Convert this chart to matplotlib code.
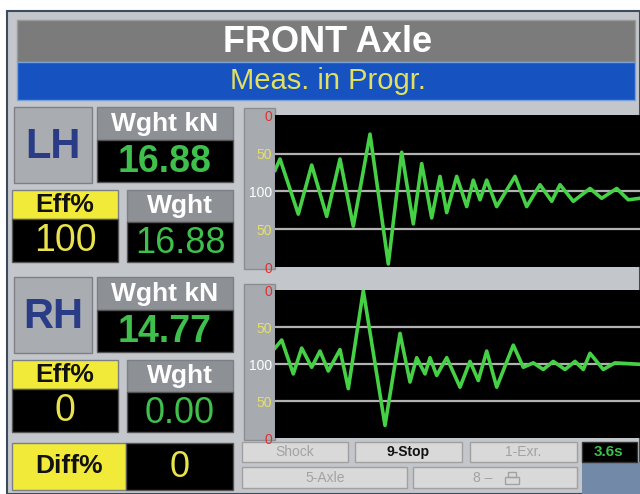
import matplotlib.pyplot as plt
from matplotlib.patches import Rectangle

plt.rcParams['font.family'] = ['Liberation Sans', 'DejaVu Sans']

# waveform data, x = time in chart units (0..365), y = deviation (centre line = 100 %)
front_lh_t = [0, 5, 23.3, 36.7, 51.7, 65, 78.3, 95, 113.3, 126.7, 138.3, 146.7, 156.7,
              165, 171.7, 181.7, 191.7, 198.3, 205, 211.7, 221.7, 240, 251.7, 265,
              276.7, 285, 298.3, 315, 326.7, 341.7, 353.3, 365]
front_lh_d = [28, 43, -30, 35, -33, 43, -46, 76, -96, 52, -43, 37, -35,
              20, -28, 20, -20, 15, -11, 15, -20, 20, -20, 9,
              -13, 9, -13, 4, -9, 4, -11, -9]

front_rh_t = [0, 6.7, 18.3, 26.7, 36.7, 45, 53.3, 65, 73.3, 88.3, 110, 125, 135,
              141.7, 150, 155, 161.7, 171.7, 185, 195, 203.3, 211.7, 221.7, 238.3,
              248.3, 258.3, 268.3, 278.3, 290, 300, 308.3, 315, 328.3, 340, 365]
front_rh_d = [22, 33, -13, 22, -4, 18, -9, 20, -33, 100, -83, 42, -24,
              9, -13, 9, -15, 9, -31, 4, -22, 18, -31, 26,
              -4, 2, -7, 4, -7, 4, -7, 15, -7, 2, 0]

tick_vals = [100, 50, 0, -50, -100]
tick_text = ['0', '50', '100', '50', '0']
tick_cols = ['#e03030', '#e8e060', '#ffffff', '#e8e060', '#e03030']

W, H = 640, 494
fig = plt.figure(figsize=(6.4, 4.94), dpi=100)
bg = fig.add_axes([0, 0, 1, 1])
bg.set_xlim(0, W)
bg.set_ylim(H, 0)
bg.axis('off')


def box(x, y, w, h, fc, ec='#7c8086', lw=1.0):
    bg.add_patch(Rectangle((x, y), w, h, facecolor=fc, edgecolor=ec, linewidth=lw))


def label(x, y, s, col, size, weight='bold'):
    bg.text(x, y, s, color=col, fontsize=size, fontweight=weight,
            ha='center', va='center')


# frame
box(0, 0, W, H, '#ffffff', ec='none')
box(7, 11, W - 7, H - 11, '#c3c6ca', ec='#3c4c5e', lw=1.5)
box(17, 20, 618, 42, '#7b7b7b', ec='#9a9a9a')
box(17, 62, 618, 38, '#1652c0', ec='#7aa0d8')
label(328, 42, 'FRONT Axle', '#ffffff', 26)
label(328, 81, 'Meas. in Progr.', '#e2e060', 21, 'normal')

GREEN = '#3fbf4c'
YEL_TXT = '#e8e24c'
YEL_BOX = '#f2ea38'
HEAD = '#8d9196'


def side_block(y0, name, wght_kn, eff, wght):
    box(14, y0, 78, 76, '#a9adb2')
    label(53, y0 + 40, name, '#2a3c86', 30)
    box(97, y0, 136, 33, HEAD)
    label(165, y0 + 17, 'Wght kN', '#ffffff', 19)
    box(97, y0 + 33, 136, 42, '#000000', ec='#555555')
    label(165, y0 + 55, wght_kn, GREEN, 27)
    box(12, y0 + 83, 106, 29, YEL_BOX)
    label(65, y0 + 98, 'Eff%', '#111111', 19)
    box(12, y0 + 112, 106, 43, '#000000', ec='#555555')
    label(65, y0 + 134, eff, YEL_TXT, 27, 'normal')
    box(127, y0 + 83, 106, 32, HEAD)
    label(180, y0 + 99, 'Wght', '#ffffff', 19)
    box(127, y0 + 115, 106, 40, '#000000', ec='#555555')
    label(180, y0 + 136, wght, GREEN, 26, 'normal')


side_block(107, 'LH', '16.88', '100', '16.88')
side_block(277, 'RH', '14.77', '0', '0.00')

box(12, 443, 114, 47, YEL_BOX)
label(69, 466, 'Diff%', '#111111', 19)
box(126, 443, 107, 47, '#000000', ec='#555555')
label(180, 467, '0', YEL_TXT, 26, 'normal')

# chart label columns
box(244, 108, 31, 161, '#a7abb0', ec='#8a8e92')
box(244, 284, 31, 156, '#a7abb0', ec='#8a8e92')


def wave(rect, t, d, ylim):
    ax = fig.add_axes(rect)
    ax.set_facecolor('#000000')
    for g in (50, 0, -50):
        ax.axhline(g, color='#b2b2b2', linewidth=1.6, zorder=1)
    ax.plot(t, d, color='#46d046', linewidth=2.6, solid_joinstyle='round', zorder=2)
    ax.set_xlim(0, 365)
    ax.set_ylim(*ylim)
    ax.set_xticks([])
    ax.set_yticks(tick_vals)
    ax.set_yticklabels(tick_text, fontsize=10)
    for lab, c in zip(ax.get_yticklabels(), tick_cols):
        lab.set_color(c)
    ax.tick_params(axis='y', length=0, pad=2)
    for s in ax.spines.values():
        s.set_visible(False)
    return ax


wave([275 / W, 1 - 267 / H, 365 / W, 152 / H], front_lh_t, front_lh_d, (-98.7, 101.3))
wave([275 / W, 1 - 438 / H, 365 / W, 148 / H], front_rh_t, front_rh_d, (-93.8, 100.9))

# bottom buttons
box(582, 462, 58, 32, '#7289a8', ec='none')
BTN = '#d9d9d9'
GREY_TXT = '#a2a2a2'
box(242, 442, 106, 20, BTN, ec='#a0a0a0')
label(295, 452, 'Shock', GREY_TXT, 10, 'normal')
box(355, 442, 107, 20, BTN, ec='#a0a0a0')
label(408, 452, '9-Stop', '#111111', 10)
box(470, 442, 107, 20, BTN, ec='#a0a0a0')
label(523, 452, '1-Exr.', GREY_TXT, 10, 'normal')
box(582, 442, 55, 20, '#000000', ec='#333333')
label(609, 452, '3.6s', GREEN, 11)
box(242, 467, 165, 21, BTN, ec='#a0a0a0')
label(325, 478, '5-Axle', GREY_TXT, 10, 'normal')
box(413, 467, 164, 21, BTN, ec='#a0a0a0')
label(483, 478, '8 \u2013', GREY_TXT, 10, 'normal')
# small printer icon
box(508, 472, 8, 5, 'none', ec=GREY_TXT)
box(505, 477, 14, 7, 'none', ec=GREY_TXT)

fig.savefig('out.png', dpi=100)
